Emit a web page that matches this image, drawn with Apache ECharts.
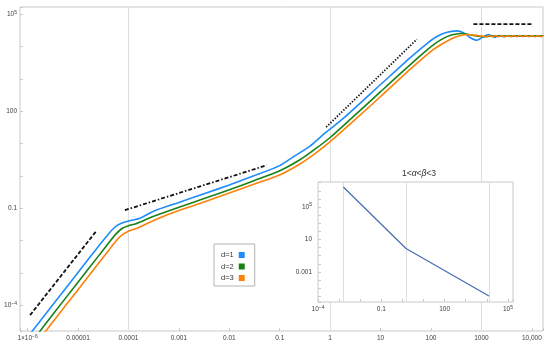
<!DOCTYPE html>
<html>
<head>
<meta charset="utf-8">
<script src="https://cdn.jsdelivr.net/npm/echarts@6/dist/echarts.min.js"></script>
<style>html,body{margin:0;padding:0;background:#fff}#c{width:550px;height:347px}</style>
</head>
<body>
<div id="c"></div>
<script>
// ---- data (values are log10 of the plotted quantities) ----
const seriesNames = ['d=1', 'd=2', 'd=3'];

const d1LogX = [-5.95,-5.5,-5.0,-4.6,-4.45,-4.35,-4.25,-4.13,-4.03,-3.93,-3.77,-3.5,-3.0,-2.5,-2.0,-1.5,-1.0,-0.73,-0.4,-0.1,0.26,1.0,1.6,1.92,2.1,2.3,2.51,2.65,2.78,2.91,3.02,3.14,3.27,3.36,3.44,3.52,3.6,3.7,3.85,4.0,4.22];
const d1LogY = [-4.89,-3.99,-2.99,-2.19,-1.90,-1.71,-1.56,-1.46,-1.41,-1.37,-1.31,-1.09,-0.82,-0.55,-0.28,0.01,0.32,0.59,0.92,1.33,1.78,2.83,3.68,4.10,4.30,4.44,4.49,4.43,4.28,4.20,4.29,4.38,4.29,4.35,4.31,4.34,4.32,4.33,4.33,4.33,4.33];

const d2LogX = [-5.85,-5.5,-5.0,-4.6,-4.4,-4.25,-4.12,-4.0,-3.85,-3.5,-3.0,-2.5,-2.0,-1.5,-1.0,-0.6,-0.3,0.0,0.42,1.0,1.6,2.0,2.2,2.4,2.6,2.75,2.9,3.05,3.2,3.5,4.22];
const d2LogY = [-5.0,-4.29,-3.29,-2.49,-2.09,-1.80,-1.62,-1.54,-1.48,-1.25,-0.97,-0.70,-0.43,-0.14,0.16,0.50,0.83,1.19,1.78,2.61,3.46,4.00,4.22,4.36,4.41,4.38,4.33,4.31,4.33,4.33,4.33];

const d3LogX = [-5.75,-5.5,-5.0,-4.6,-4.4,-4.25,-4.12,-4.0,-3.85,-3.6,-3.3,-3.0,-2.5,-2.0,-1.5,-1.0,-0.6,-0.3,0.0,0.52,1.0,1.6,2.0,2.2,2.4,2.55,2.7,2.85,3.0,3.1,3.16,3.22,3.28,3.34,3.40,3.46,3.52,3.58,3.64,3.70,3.76,3.82,3.88,3.94,4.0,4.06,4.12,4.18,4.24];
const d3LogY = [-5.02,-4.52,-3.52,-2.72,-2.32,-2.02,-1.82,-1.71,-1.63,-1.45,-1.25,-1.07,-0.81,-0.53,-0.25,0.03,0.37,0.69,1.06,1.78,2.46,3.32,3.86,4.07,4.24,4.33,4.38,4.36,4.33,4.31,4.35,4.31,4.35,4.31,4.35,4.31,4.35,4.31,4.35,4.31,4.35,4.31,4.35,4.31,4.35,4.31,4.35,4.31,4.35];

// asymptote guide lines
const guideDashLogX = [-5.95, -4.64];   const guideDashLogY = [-4.31, -1.71];
const guideDashDotLogX = [-4.07, -1.26]; const guideDashDotLogY = [-1.06, 0.33];
const guideDotLogX = [-0.08, 1.72];     const guideDotLogY = [1.51, 4.23];
const guideTopLogX = [2.84, 4.03];      const guideTopLogY = [4.70, 4.70];

const mainGridLogX = [-4, 0, 3];

// inset
const insetTitle = '1<{i|α}<{i|β}<3';
const insetLogX = [-2.8, 0.17, 4.1];
const insetLogY = [7.47, -0.11, -5.96];

// tick labels
const xTickExps = [-6,-5,-4,-3,-2,-1,0,1,2,3,4];
const xTickLabels = ['1×10{sup|−6}','0.00001','0.0001','0.001','0.01','0.1','1','10','100','1000','10,000'];
const yTickExps = [-4,-1,2,5];
const yTickLabels = ['10{sup|−4}','0.1','100','10{sup|5}'];
const insetXTickExps = [-4,-1,2,5];
const insetXTickLabels = ['10{sup|−4}','0.1','100','10{sup|5}'];
const insetYTickExps = [-3,1,5];
const insetYTickLabels = ['0.001','10','10{sup|5}'];

// ---- styling ----
const FONT = '"Liberation Sans", Arial, sans-serif';
const LABEL = '#3c3c3c';
const FRAME = '#c9c9c9';
const GRIDC = '#dedede';
const colors = ['#1E8CFA', '#178217', '#FF8008'];

function pairs(xs, ys) { return xs.map((x, i) => [x, ys[i]]); }
function fmt(exps, labels) {
  return function (v) {
    const k = Math.round(v);
    if (Math.abs(v - k) > 1e-6) return '';
    const i = exps.indexOf(k);
    return i < 0 ? '' : labels[i];
  };
}
const rich = {
  sup: { fontSize: 5, verticalAlign: 'top', fontFamily: FONT, color: LABEL, lineHeight: 6 }
};
function axisLabel(exps, labels, margin) {
  return { formatter: fmt(exps, labels), margin: margin, fontSize: 6.5, lineHeight: 9, color: LABEL, fontFamily: FONT, rich: rich };
}
const tick = { inside: true, length: 3, lineStyle: { color: FRAME, width: 1 } };
const noLine = { show: false, onZero: false };

function guide(xs, ys, dash) {
  return {
    type: 'line', xAxisIndex: 0, yAxisIndex: 0, data: pairs(xs, ys), showSymbol: false, symbol: 'none',
    silent: true, z: 3, lineStyle: { color: '#111', width: 1.8, type: dash }
  };
}
function curve(i, xs, ys) {
  return {
    name: seriesNames[i], type: 'line', xAxisIndex: 0, yAxisIndex: 0, data: pairs(xs, ys),
    showSymbol: false, symbol: 'none', smooth: 0.25, z: 4 + i,
    itemStyle: { color: colors[i] }, lineStyle: { color: colors[i], width: 1.6 }
  };
}

const option = {
  animation: false,
  backgroundColor: '#fff',
  grid: [
    { left: 20, top: 7, right: 7, bottom: 16, show: true, borderColor: FRAME, borderWidth: 1, z: 0 },
    { left: 318, top: 182, width: 195, height: 120, show: true, borderColor: FRAME, borderWidth: 1, backgroundColor: '#fff', z: 10 }
  ],
  xAxis: [
    { type: 'value', gridIndex: 0, min: -6.15, max: 4.22, splitNumber: 10, axisLine: noLine, position: 'bottom',
      axisTick: tick, splitLine: { show: false }, axisLabel: axisLabel(xTickExps, xTickLabels, 3) },
    { type: 'value', gridIndex: 1, min: -4, max: 5.24, splitNumber: 9, z: 11, axisLine: noLine, position: 'bottom',
      axisTick: tick, splitLine: { show: false }, axisLabel: axisLabel(insetXTickExps, insetXTickLabels, 3) }
  ],
  yAxis: [
    { type: 'value', gridIndex: 0, min: -4.8, max: 5.23, splitNumber: 10, axisLine: noLine, position: 'left',
      axisTick: tick, splitLine: { show: false }, axisLabel: axisLabel(yTickExps, yTickLabels, 3) },
    { type: 'value', gridIndex: 1, min: -6.7, max: 8.08, splitNumber: 15, z: 11, axisLine: noLine, position: 'left',
      axisTick: tick, splitLine: { show: false }, axisLabel: axisLabel(insetYTickExps, insetYTickLabels, 6) }
  ],
  legend: {
    data: seriesNames, orient: 'vertical', left: 214, top: 244, align: 'right', icon: 'rect',
    itemWidth: 6, itemHeight: 6, itemGap: 2.5, padding: [6.5, 10, 3.5, 7],
    borderColor: '#b3b3b3', borderWidth: 1, backgroundColor: '#fff', selectedMode: false,
    textStyle: { fontSize: 7.5, lineHeight: 9, color: '#333', fontFamily: FONT }
  },
  graphic: [
    { type: 'text', x: 419, y: 174, z: 20, silent: true,
      style: { text: insetTitle, align: 'center', verticalAlign: 'middle', fontSize: 8.5, fontFamily: FONT, fill: '#333',
        rich: { i: { fontStyle: 'italic', fontSize: 8.5, fontFamily: FONT, fill: '#333' } } } }
  ],
  series: [
    { type: 'line', xAxisIndex: 0, yAxisIndex: 0, data: [], z: 1, silent: true,
      markLine: { silent: true, z: 1, symbol: ['none', 'none'], label: { show: false }, animation: false,
        lineStyle: { color: GRIDC, type: 'solid', width: 1 }, data: mainGridLogX.map(v => ({ xAxis: v })) } },
    guide(guideDashLogX, guideDashLogY, [4, 2]),
    guide(guideDashDotLogX, guideDashDotLogY, [4, 2, 1.5, 2]),
    guide(guideDotLogX, guideDotLogY, [1.4, 1.6]),
    guide(guideTopLogX, guideTopLogY, [4, 2]),
    curve(0, d1LogX, d1LogY),
    curve(1, d2LogX, d2LogY),
    curve(2, d3LogX, d3LogY),
    { type: 'line', xAxisIndex: 1, yAxisIndex: 1, data: [], z: 12, silent: true,
      markLine: { silent: true, z: 12, symbol: ['none', 'none'], label: { show: false }, animation: false,
        lineStyle: { color: GRIDC, type: 'solid', width: 1 }, data: insetLogX.map(v => ({ xAxis: v })) } },
    { type: 'line', xAxisIndex: 1, yAxisIndex: 1, data: pairs(insetLogX, insetLogY), z: 13, silent: true,
      showSymbol: false, symbol: 'none', lineStyle: { color: '#4A6FB4', width: 1.3 } }
  ]
};

const chart = echarts.init(document.getElementById('c'), null, { renderer: 'canvas' });
chart.setOption(option);
</script>
</body>
</html>
